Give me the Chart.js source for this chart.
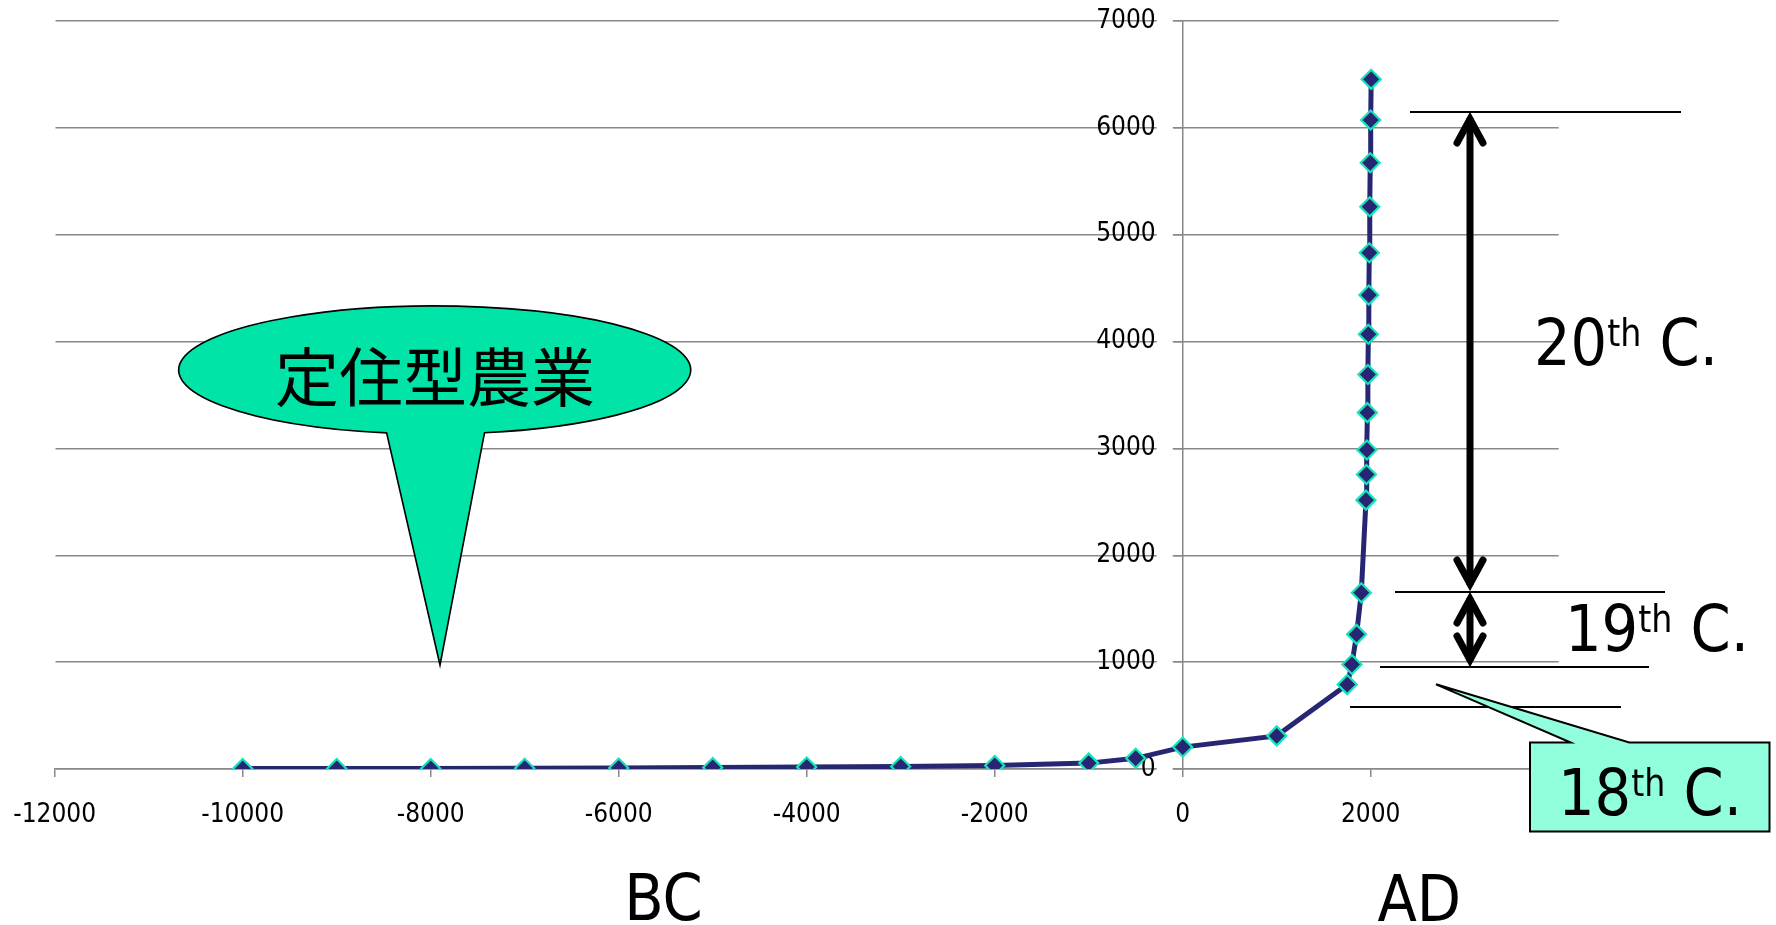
<!DOCTYPE html>
<html>
<head>
<meta charset="utf-8">
<script src="https://cdn.jsdelivr.net/npm/chart.js@4/dist/chart.umd.min.js"></script>
<style>
  html, body { margin: 0; padding: 0; background: #ffffff; }
  #wrap { width: 1776px; height: 925px; position: relative; }
  canvas { display: block; }
</style>
</head>
<body>
<div id="wrap"><canvas id="chart" width="1776" height="925"></canvas></div>
<script>
// World population (millions) by year; negative years are BC.
const years = [-10000, -9000, -8000, -7000, -6000, -5000, -4000, -3000, -2000, -1000, -500, 0, 1000,
               1750, 1800, 1850, 1900, 1950, 1955, 1960, 1965, 1970, 1975, 1980, 1985, 1990, 1995, 2000, 2005];
const population = [4, 5, 5, 7, 10, 14, 18, 24, 32, 55, 100, 205, 310,
                    790, 978, 1260, 1650, 2516, 2756, 2985, 3335, 3692, 4068, 4435, 4831, 5262, 5674, 6073, 6454];

// Axis tick values
const xTickValues = [-12000, -10000, -8000, -6000, -4000, -2000, 0, 2000, 4000];
const yTickValues = [0, 1000, 2000, 3000, 4000, 5000, 6000, 7000];

// Text labels
const eraLabels = ['BC', 'AD'];
const calloutText = '定住型農業';
const centuryLabels = ['20', '19', '18'];

const LATIN = "'DejaVu Sans Condensed', 'DejaVu Sans', sans-serif";
const CJK = "'Noto Sans CJK JP', 'Noto Sans CJK SC', sans-serif";

const points = years.map((y, i) => ({ x: y, y: population[i] }));

// Plot area the axes are fitted to (pixels)
const PLOT = { left: 54.7, top: 21, right: 1558.7, bottom: 769 };

// Draws "NNth C." with a raised "th", centred on cx.
function drawCentury(ctx, num, cx, baseline) {
  const big = `64px ${LATIN}`, small = `37px ${LATIN}`;
  ctx.font = big; const wNum = ctx.measureText(num).width;
  const wTail = ctx.measureText(' C.').width;
  ctx.font = small; const wTh = ctx.measureText('th').width;
  let x = cx - (wNum + wTh + wTail) / 2;
  ctx.textAlign = 'left'; ctx.textBaseline = 'alphabetic'; ctx.fillStyle = '#000';
  ctx.font = big; ctx.fillText(num, x, baseline); x += wNum;
  ctx.font = small; ctx.fillText('th', x, baseline - 19); x += wTh;
  ctx.font = big; ctx.fillText(' C.', x, baseline);
}

function chevron(ctx, x, tipY, dir) {
  // dir = -1 for an upward head, +1 for a downward head
  const vy = tipY - dir * 7;
  ctx.beginPath();
  ctx.moveTo(x - 13, vy - dir * 24);
  ctx.lineTo(x, vy);
  ctx.lineTo(x + 13, vy - dir * 24);
  ctx.stroke();
}

function doubleArrow(ctx, x, topY, botY) {
  ctx.save();
  ctx.strokeStyle = '#000'; ctx.lineWidth = 7;
  ctx.lineCap = 'butt';
  ctx.beginPath(); ctx.moveTo(x, topY + 6); ctx.lineTo(x, botY - 6); ctx.stroke();
  ctx.lineCap = 'round'; ctx.lineJoin = 'miter';
  chevron(ctx, x, topY, -1);
  chevron(ctx, x, botY, 1);
  ctx.restore();
}

// Puts the value axis on the x = 0 line
const crossAxis = {
  id: 'crossAxis',
  afterLayout(chart) {
    const y = chart.scales.y;
    const px = chart.scales.x.getPixelForValue(0);
    y.left = px - 100; y.right = px;
  },
  beforeDatasetsDraw(chart) {
    // small white gap between each value label and its tick mark
    const ctx = chart.ctx, y = chart.scales.y;
    const px = chart.scales.x.getPixelForValue(0);
    ctx.save();
    ctx.fillStyle = '#fff';
    yTickValues.forEach(v => {
      const py = y.getPixelForValue(v);
      ctx.fillRect(px - 26, py - 2, 16, 4);
    });
    ctx.restore();
  }
};

const annotations = {
  id: 'annotations',
  afterDraw(chart) {
    const ctx = chart.ctx;
    ctx.save();

    // Speech-bubble callout
    const cx = 434.7, cy = 370, rx = 256, ry = 64;
    const tip = { x: 440, y: 665 };
    const aR = Math.acos((484.5 - cx) / rx), aL = Math.acos((386.6 - cx) / rx);
    ctx.beginPath();
    ctx.moveTo(tip.x, tip.y);
    ctx.lineTo(cx + rx * Math.cos(aL), cy + ry * Math.sin(aL));
    ctx.ellipse(cx, cy, rx, ry, 0, aL, aR + Math.PI * 2, false);
    ctx.closePath();
    ctx.fillStyle = 'rgb(0,228,168)';
    ctx.fill();
    ctx.lineWidth = 1.6; ctx.strokeStyle = '#000'; ctx.lineJoin = 'miter';
    ctx.stroke();
    ctx.fillStyle = '#000';
    ctx.font = `64px ${CJK}`;
    ctx.textAlign = 'center'; ctx.textBaseline = 'middle';
    ctx.fillText(calloutText, 435, 377);

    // Century boundary lines
    ctx.strokeStyle = '#000'; ctx.lineWidth = 2;
    [[1410, 1681, 112], [1395, 1665, 592], [1380, 1649, 667], [1350, 1621, 707]].forEach(([x0, x1, y]) => {
      ctx.beginPath(); ctx.moveTo(x0, y); ctx.lineTo(x1, y); ctx.stroke();
    });

    // Span arrows
    doubleArrow(ctx, 1470, 112, 591);
    doubleArrow(ctx, 1470, 592, 667);

    // Labelled box with pointer
    ctx.beginPath();
    ctx.moveTo(1530, 742.5);
    ctx.lineTo(1570.7, 742.5);
    ctx.lineTo(1436, 684.3);
    ctx.lineTo(1629.3, 742.5);
    ctx.lineTo(1769.5, 742.5);
    ctx.lineTo(1769.5, 831.5);
    ctx.lineTo(1530, 831.5);
    ctx.closePath();
    ctx.fillStyle = 'rgb(145,255,222)';
    ctx.fill();
    ctx.lineWidth = 2; ctx.strokeStyle = '#000';
    ctx.stroke();

    drawCentury(ctx, centuryLabels[0], 1626, 365);
    drawCentury(ctx, centuryLabels[1], 1657, 651);
    drawCentury(ctx, centuryLabels[2], 1650, 815);

    // Era captions
    ctx.fillStyle = '#000';
    ctx.font = `64px ${LATIN}`;
    ctx.textAlign = 'center'; ctx.textBaseline = 'alphabetic';
    ctx.fillText(eraLabels[0], 663.5, 920);
    ctx.fillText(eraLabels[1], 1419.3, 920.5);

    ctx.restore();
  }
};

const tickFont = { family: LATIN, size: 26 };
const plain = (v) => String(v);

const config = {
  type: 'line',
  data: {
    datasets: [{
      data: points,
      borderColor: '#262673',
      borderWidth: 5,
      tension: 0,
      pointStyle: 'rectRot',
      pointRadius: 9.5,
      pointBackgroundColor: '#262673',
      pointBorderColor: 'rgb(20,228,184)',
      pointBorderWidth: 2.2,
      fill: false
    }]
  },
  options: {
    responsive: false,
    animation: false,
    events: [],
    layout: { padding: { left: 55, right: 217, top: 21, bottom: 99 } },
    plugins: { legend: { display: false }, tooltip: { enabled: false } },
    scales: {
      x: {
        type: 'linear',
        position: 'bottom',
        min: xTickValues[0],
        max: xTickValues[xTickValues.length - 1],
        afterBuildTicks: (s) => { s.ticks = xTickValues.map(v => ({ value: v })); },
        afterFit: (s) => { s.paddingLeft = 0; s.paddingRight = 0; },
        ticks: { autoSkip: false, maxRotation: 0, font: tickFont, color: '#000', padding: 22.5, callback: plain },
        grid: { drawOnChartArea: false, drawTicks: true, tickLength: 8, color: '#888', lineWidth: 1.5 },
        border: { display: true, color: '#888', width: 1.5 }
      },
      y: {
        type: 'linear',
        position: 'left',
        min: yTickValues[0],
        max: yTickValues[yTickValues.length - 1],
        afterBuildTicks: (s) => { s.ticks = yTickValues.map(v => ({ value: v })); },
        afterFit: (s) => { s.width = 0; s.paddingTop = 0; s.paddingBottom = 0; },
        ticks: { font: tickFont, color: '#000', padding: 18, callback: plain },
        grid: { color: '#888', lineWidth: 1.5, tickLength: 9, drawTicks: true },
        border: { display: true, color: '#888', width: 1.5 }
      }
    }
  },
  plugins: [crossAxis, annotations]
};

const chart = new Chart(document.getElementById('chart'), config);

// Nudge the layout padding until the plot area sits where the axes belong
for (let k = 0; k < 4; k++) {
  const a = chart.chartArea, p = config.options.layout.padding;
  p.left += PLOT.left - a.left;
  p.top += PLOT.top - a.top;
  p.right += a.right - PLOT.right;
  p.bottom += a.bottom - PLOT.bottom;
  chart.options.layout.padding = { ...p };
  chart.update();
}
</script>
</body>
</html>
